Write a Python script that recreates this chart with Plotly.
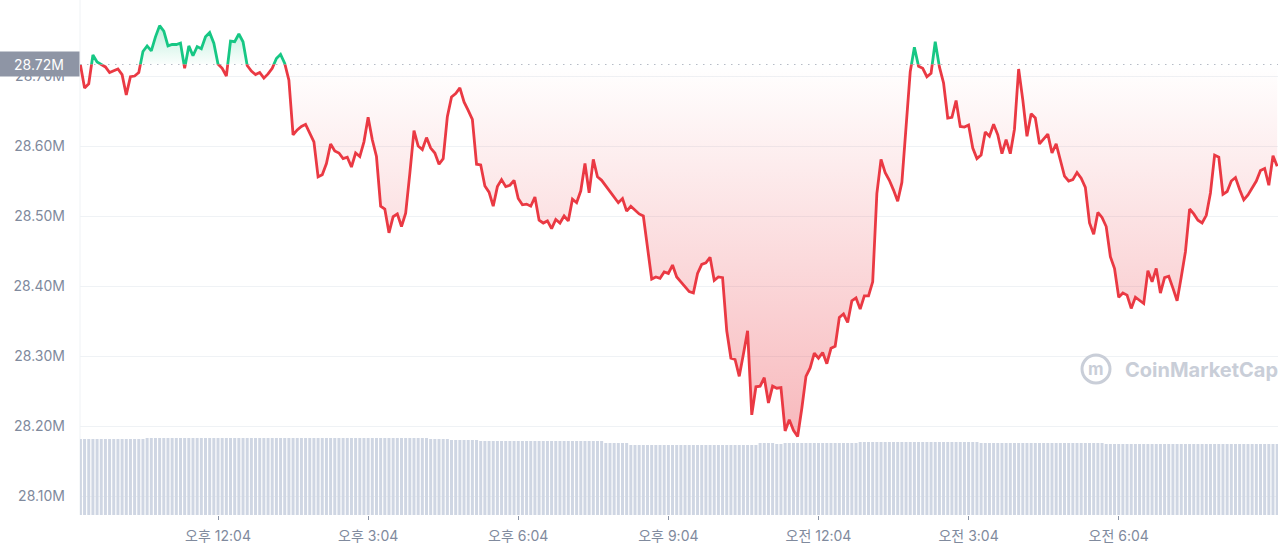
import plotly.graph_objects as go
import pandas as pd

# ---------------- data ----------------
start_time = "2024-05-20 09:19"
interval = "5min"

price_m = [
    28.716, 28.683, 28.689, 28.730, 28.720, 28.717, 28.713, 28.705, 28.707, 28.710, 28.702, 28.673,
    28.699, 28.700, 28.705, 28.735, 28.743, 28.736, 28.756, 28.772, 28.764, 28.743, 28.745, 28.745,
    28.747, 28.711, 28.743, 28.729, 28.742, 28.739, 28.756, 28.762, 28.747, 28.717, 28.711, 28.700,
    28.750, 28.749, 28.760, 28.749, 28.715, 28.707, 28.702, 28.705, 28.697, 28.703, 28.711, 28.725,
    28.731, 28.718, 28.694, 28.616, 28.623, 28.628, 28.631, 28.618, 28.606, 28.556, 28.559, 28.575,
    28.603, 28.593, 28.590, 28.582, 28.584, 28.570, 28.590, 28.585, 28.606, 28.641, 28.609, 28.585,
    28.514, 28.510, 28.476, 28.499, 28.503, 28.485, 28.504, 28.561, 28.622, 28.600, 28.595, 28.612,
    28.597, 28.590, 28.574, 28.582, 28.642, 28.670, 28.675, 28.683, 28.663, 28.651, 28.638, 28.574,
    28.573, 28.543, 28.534, 28.514, 28.542, 28.552, 28.542, 28.544, 28.551, 28.525, 28.516, 28.517,
    28.514, 28.527, 28.494, 28.490, 28.493, 28.482, 28.495, 28.490, 28.500, 28.493, 28.524, 28.519,
    28.536, 28.575, 28.533, 28.581, 28.556, 28.551, 28.543, 28.535, 28.527, 28.519, 28.525, 28.507,
    28.514, 28.508, 28.503, 28.500, 28.454, 28.410, 28.413, 28.411, 28.420, 28.418, 28.430, 28.413,
    28.406, 28.399, 28.392, 28.390, 28.418, 28.431, 28.433, 28.441, 28.408, 28.413, 28.412, 28.336,
    28.297, 28.295, 28.271, 28.303, 28.336, 28.216, 28.256, 28.257, 28.269, 28.233, 28.257, 28.254,
    28.255, 28.193, 28.209, 28.194, 28.185, 28.225, 28.271, 28.283, 28.304, 28.297, 28.305, 28.289,
    28.311, 28.314, 28.355, 28.360, 28.348, 28.379, 28.383, 28.367, 28.386, 28.386, 28.406, 28.532,
    28.581, 28.562, 28.551, 28.537, 28.521, 28.548, 28.623, 28.706, 28.741, 28.714, 28.711, 28.699,
    28.704, 28.749, 28.713, 28.690, 28.640, 28.641, 28.665, 28.628, 28.627, 28.630, 28.597, 28.582,
    28.587, 28.620, 28.614, 28.631, 28.616, 28.589, 28.609, 28.589, 28.624, 28.710, 28.666, 28.614,
    28.646, 28.640, 28.603, 28.610, 28.617, 28.590, 28.603, 28.580, 28.557, 28.550, 28.552, 28.562,
    28.554, 28.541, 28.490, 28.474, 28.505, 28.498, 28.485, 28.442, 28.425, 28.384, 28.390, 28.387,
    28.368, 28.384, 28.379, 28.375, 28.422, 28.406, 28.425, 28.390, 28.412, 28.414, 28.397, 28.379,
    28.413, 28.449, 28.510, 28.503, 28.494, 28.490, 28.501, 28.533, 28.587, 28.584, 28.531, 28.535,
    28.550, 28.555, 28.538, 28.523, 28.530, 28.541, 28.550, 28.565, 28.568, 28.544, 28.586, 28.571,
]

volume = [
    76, 76, 76, 76, 76, 76, 76, 76, 76, 76, 76, 76, 76, 76, 76, 76, 77, 77, 77, 77, 77, 77, 77, 77,
    77, 77, 77, 77, 77, 77, 77, 77, 77, 77, 77, 77, 77, 77, 77, 77, 77, 77, 77, 77, 77, 77, 77, 77,
    77, 77, 77, 77, 77, 77, 77, 77, 77, 77, 77, 77, 77, 77, 77, 77, 77, 77, 77, 77, 77, 77, 77, 77,
    77, 77, 77, 77, 77, 77, 77, 77, 77, 77, 77, 77, 76, 76, 76, 76, 76, 75, 75, 75, 75, 75, 75, 75,
    74, 74, 74, 74, 74, 74, 74, 74, 74, 74, 74, 74, 74, 74, 74, 74, 74, 74, 74, 74, 74, 74, 74, 74,
    74, 74, 74, 74, 74, 74, 72, 72, 72, 72, 72, 72, 70, 70, 70, 70, 70, 70, 70, 70, 70, 70, 70, 70,
    70, 70, 70, 70, 70, 70, 70, 70, 70, 70, 70, 70, 70, 70, 70, 70, 70, 70, 70, 72, 72, 72, 72, 71,
    71, 72, 72, 72, 72, 72, 72, 72, 72, 72, 72, 72, 72, 72, 72, 72, 72, 72, 72, 73, 73, 73, 73, 73,
    73, 73, 73, 73, 73, 73, 73, 73, 73, 73, 73, 73, 73, 73, 73, 73, 73, 73, 73, 73, 73, 73, 73, 73,
    72, 72, 72, 72, 72, 72, 72, 72, 72, 72, 72, 72, 72, 72, 72, 72, 72, 72, 72, 72, 72, 72, 72, 72,
    72, 72, 72, 72, 72, 72, 71, 71, 71, 71, 71, 71, 71, 71, 71, 71, 71, 71, 71, 71, 71, 71, 71, 71,
    71, 71, 71, 71, 71, 71, 71, 71, 71, 71, 71, 71, 71, 71, 71, 71, 71, 71, 71, 71, 71, 71, 71, 71,
]

baseline_m = 28.7167
baseline_label = "28.72M"

y_tick_vals = [28.10, 28.20, 28.30, 28.40, 28.50, 28.60, 28.70]
y_tick_text = ["28.10M", "28.20M", "28.30M", "28.40M", "28.50M", "28.60M", "28.70M"]

x_tick_vals = ["2024-05-20 12:04", "2024-05-20 15:04", "2024-05-20 18:04", "2024-05-20 21:04",
               "2024-05-21 00:04", "2024-05-21 03:04", "2024-05-21 06:04"]
x_tick_text = ["오후 12:04", "오후 3:04", "오후 6:04", "오후 9:04", "오전 12:04", "오전 3:04", "오전 6:04"]

watermark = "CoinMarketCap"

# ---------------- styling ----------------
RED = "#ea3943"
GREEN = "#16c784"
GRID = "#eff2f5"
LABEL = "#808a9d"
FONT = "Inter, 'Noto Sans CJK KR', sans-serif"

y_min, y_max = 28.0729, 28.8086
vol_range = [0, 515]
fb = (baseline_m - y_min) / (y_max - y_min)

times = pd.date_range(start_time, periods=len(price_m), freq=interval)
base_series = [baseline_m] * len(price_m)

fig = go.Figure()

# volume bars (own hidden axis)
fig.add_trace(go.Bar(x=times, y=volume, xaxis="x", yaxis="y2",
                     marker=dict(color="#cfd6e3", line=dict(width=0)),
                     hoverinfo="skip", showlegend=False))

# red part (below baseline), clipped by axis domain
fig.add_trace(go.Scatter(x=times, y=base_series, xaxis="x", yaxis="y", mode="lines",
                         line=dict(width=0, color="rgba(0,0,0,0)"), hoverinfo="skip", showlegend=False))
fig.add_trace(go.Scatter(x=times, y=price_m, xaxis="x", yaxis="y", mode="lines",
                         line=dict(color=RED, width=2.8), fill="tonexty",
                         fillgradient=dict(type="vertical",
                                           colorscale=[[0, "rgba(234,57,67,0.36)"], [1, "rgba(234,57,67,0.0)"]],
                                           start=28.18, stop=baseline_m),
                         hoverinfo="skip", showlegend=False))

# green part (above baseline)
fig.add_trace(go.Scatter(x=times, y=base_series, xaxis="x", yaxis="y3", mode="lines",
                         line=dict(width=0, color="rgba(0,0,0,0)"), hoverinfo="skip", showlegend=False))
fig.add_trace(go.Scatter(x=times, y=price_m, xaxis="x", yaxis="y3", mode="lines",
                         line=dict(color=GREEN, width=2.8), fill="tonexty",
                         fillgradient=dict(type="vertical",
                                           colorscale=[[0, "rgba(22,199,132,0.02)"], [1, "rgba(22,199,132,0.30)"]],
                                           start=baseline_m, stop=28.775),
                         hoverinfo="skip", showlegend=False))

fig.update_layout(
    width=1280, height=551,
    margin=dict(l=80, r=2, t=0, b=36),
    paper_bgcolor="white", plot_bgcolor="rgba(0,0,0,0)",
    bargap=0.28,
    showlegend=False,
    font=dict(family=FONT, color=LABEL, size=14),
    xaxis=dict(type="date", range=["2024-05-20 09:18:31", "2024-05-21 09:15:00"],
               tickmode="array", tickvals=x_tick_vals, ticktext=x_tick_text,
               ticks="outside", ticklen=4, tickwidth=1, tickcolor="#8a93a6",
               tickfont=dict(size=14, color=LABEL, family="Inter, 'Noto Sans CJK KR'"),
               ticklabelstandoff=4,
               showgrid=False, showline=False, zeroline=False, anchor="y"),
    yaxis=dict(domain=[0, fb], range=[y_min, baseline_m],
               tickmode="array", tickvals=y_tick_vals, ticktext=y_tick_text,
               tickfont=dict(size=14, color=LABEL, family=FONT),
               ticks="", ticklabelstandoff=14,
               showgrid=True, gridcolor=GRID, gridwidth=1,
               showline=False, zeroline=False, anchor="x"),
    yaxis2=dict(domain=[0, 1], range=vol_range, visible=False, anchor="x"),
    yaxis3=dict(domain=[fb, 1], range=[baseline_m, y_max], visible=False, anchor="x"),
)

# left border line of plot
fig.add_shape(type="line", xref="paper", yref="paper", x0=0, x1=0, y0=0, y1=1,
              line=dict(color=GRID, width=1), layer="below")

# dotted baseline
fig.add_shape(type="line", xref="paper", yref="y", x0=0, x1=1, y0=baseline_m, y1=baseline_m,
              line=dict(color="#9ea5b3", width=1.5, dash="1.5px,5.5px"), layer="above")

# baseline label
fig.add_annotation(xref="paper", yref="y", x=0, y=baseline_m, xanchor="right", yanchor="middle",
                   text=baseline_label, showarrow=False, bgcolor="#8e95a5",
                   width=74, height=18, borderpad=3, align="center",
                   font=dict(color="#ffffff", size=14, family=FONT))

# watermark
wx_px, wy_px = 1096, 369
fig.add_shape(type="circle", xref="paper", yref="paper", xsizemode="pixel", ysizemode="pixel",
              xanchor=(wx_px - 80) / 1198, yanchor=(515 - wy_px) / 515,
              x0=-14, x1=14, y0=-14, y1=14,
              line=dict(color="#c9ced8", width=3), layer="above")
fig.add_annotation(xref="paper", yref="paper", x=(wx_px - 80) / 1198, y=(515 - wy_px) / 515,
                   xanchor="center", yanchor="middle", text="<b>m</b>", showarrow=False,
                   font=dict(color="#c9ced8", size=17, family=FONT))
fig.add_annotation(xref="paper", yref="paper", x=(1123 - 80) / 1198, y=(515 - 370) / 515,
                   xanchor="left", yanchor="middle", text="<b>" + watermark + "</b>", showarrow=False,
                   font=dict(color="#c9ced8", size=20, family=FONT))

fig.write_html("out.html", config={"displayModeBar": False},
               post_script="document.body.style.margin='0';document.body.style.overflow='hidden';")
